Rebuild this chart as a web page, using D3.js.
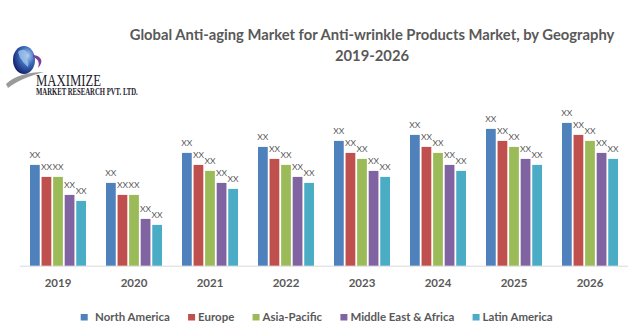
<!DOCTYPE html>
<html>
<head>
<meta charset="utf-8">
<script src="https://cdn.jsdelivr.net/npm/d3@7/dist/d3.min.js"></script>
<style>
  html, body { margin: 0; padding: 0; background: #fff; }
  svg { display: block; }
</style>
</head>
<body>
<svg id="chart" width="629" height="327"></svg>
<script>
// Market size by region and year (labels shown as "XX")
const years = ["2019", "2020", "2021", "2022", "2023", "2024", "2025", "2026"];
const regions = ["North America", "Europe", "Asia-Pacific", "Middle East & Africa", "Latin America"];
const northAmerica = [16.8, 13.8, 18.8, 19.8, 20.8, 21.8, 22.8, 23.8];
const europe       = [14.8, 11.8, 16.8, 17.8, 18.8, 19.8, 20.8, 21.8];
const asiaPacific  = [14.8, 11.8, 15.8, 16.8, 17.8, 18.8, 19.8, 20.8];
const middleEast   = [11.8,  7.8, 13.8, 14.8, 15.8, 16.8, 17.8, 18.8];
const latinAmerica = [10.8,  6.8, 12.8, 13.8, 14.8, 15.8, 16.8, 17.8];
const valueLabel = "XX";
const colors = ["#4F81BD", "#C0504D", "#9BBB59", "#8064A2", "#4BACC6"];

const seriesValues = [northAmerica, europe, asiaPacific, middleEast, latinAmerica];
const rows = years.map((y, i) => ({
  year: y,
  values: regions.map((r, j) => ({ region: r, value: seriesValues[j][i], idx: j }))
}));

const svg = d3.select("#chart");
const gray = "#595959";
const font = "Lato, 'Open Sans', sans-serif";

// fit a text element to a target width by adjusting font size
function fitWidth(sel, target) {
  const node = sel.node();
  const fs = parseFloat(sel.attr("font-size"));
  const w = node.getComputedTextLength();
  if (w > 0) sel.attr("font-size", (fs * target / w).toFixed(2));
}
// squeeze a text element horizontally to a target width, keeping its height
function squeezeTo(sel, x, target) {
  const w = sel.node().getComputedTextLength();
  if (w > 0) {
    const k = target / w;
    sel.attr("x", 0).attr("transform", `translate(${x},0) scale(${k.toFixed(4)},1)`);
  }
}

// ---- Title ----
const t1 = svg.append("text")
  .attr("x", 372).attr("y", 40)
  .attr("text-anchor", "middle")
  .attr("font-family", font).attr("font-weight", "bold")
  .attr("font-size", 14).attr("fill", gray)
  .text("Global Anti-aging Market for Anti-wrinkle Products Market, by Geography");
fitWidth(t1, 485);
svg.append("text")
  .attr("x", 372).attr("y", 61)
  .attr("text-anchor", "middle")
  .attr("font-family", font).attr("font-weight", "bold")
  .attr("font-size", t1.attr("font-size")).attr("fill", gray)
  .text("2019-2026");

// ---- Logo ----
const defs = svg.append("defs");
const rg = defs.append("radialGradient").attr("id", "globe")
  .attr("cx", "65%").attr("cy", "35%").attr("r", "70%");
rg.append("stop").attr("offset", "0%").attr("stop-color", "#b9d6f2");
rg.append("stop").attr("offset", "45%").attr("stop-color", "#3f6fc0");
rg.append("stop").attr("offset", "100%").attr("stop-color", "#14206a");
const logo = svg.append("g");
logo.append("path")
  .attr("d", "M6,84 C14,76 28,72 44,72 C30,76 18,80 8,88 Z")
  .attr("fill", "#9a9a9a");
logo.append("ellipse").attr("cx", 24).attr("cy", 60).attr("rx", 11).attr("ry", 14)
  .attr("fill", "url(#globe)");
logo.append("path")
  .attr("d", "M18,52 C22,48 28,50 27,55 C26,59 30,62 28,67 C24,64 22,60 20,58 Z")
  .attr("fill", "#9fc3ea").attr("opacity", 0.8);
logo.append("path")
  .attr("d", "M33,55 C42,56 44,62 38,68 C40,62 38,59 33,57 Z")
  .attr("fill", "#7a3f9a");
const mx = logo.append("text")
  .attr("y", 86.5)
  .attr("font-family", "'Liberation Serif', 'DejaVu Serif', serif")
  .attr("font-size", 17.5).attr("fill", "#1c1c2c")
  .text("MAXIMIZE");
squeezeTo(mx, 36, 65);
const mr = logo.append("text")
  .attr("y", 95)
  .attr("font-family", "'Liberation Serif', 'DejaVu Serif', serif")
  .attr("font-weight", "bold")
  .attr("font-size", 10).attr("fill", "#1c1c2c")
  .text("MARKET RESEARCH PVT. LTD.");
squeezeTo(mr, 36, 102);

// ---- Scales ----
const baseline = 265.7;
const x0 = d3.scaleBand().domain(years).range([20, 628])
  .paddingInner(0.263).paddingOuter(0.1316);
const x1 = d3.scaleBand().domain(regions).range([0, x0.bandwidth()])
  .paddingInner(0.157).paddingOuter(0);
const y = d3.scaleLinear().domain([0, 20]).range([baseline, baseline - 120]);

// ---- Axis line ----
svg.append("line")
  .attr("x1", 20).attr("x2", 628)
  .attr("y1", 266.2).attr("y2", 266.2)
  .attr("stroke", "#d9d9d9").attr("stroke-width", 1);

// ---- Bars ----
const groups = svg.append("g").selectAll("g").data(rows).join("g")
  .attr("transform", d => `translate(${x0(d.year)},0)`);
groups.selectAll("rect").data(d => d.values).join("rect")
  .attr("x", d => x1(d.region))
  .attr("y", d => y(d.value))
  .attr("width", x1.bandwidth())
  .attr("height", d => y(0) - y(d.value))
  .attr("fill", d => colors[d.idx]);

// ---- Value labels ----
const labels = groups.selectAll("text.lbl").data(d => d.values).join("text")
  .attr("class", "lbl")
  .attr("x", d => x1(d.region) + x1.bandwidth() / 2)
  .attr("y", d => y(d.value) - 7.2)
  .attr("text-anchor", "middle")
  .attr("font-family", font).attr("font-size", 10)
  .attr("fill", gray)
  .text(valueLabel);
// size the labels so "XX" spans ~11px
{
  const w = labels.node().getComputedTextLength();
  if (w > 0) labels.attr("font-size", (10 * 11 / w).toFixed(2));
}

// ---- Year axis labels ----
const xAxis = d3.axisBottom(x0).tickSize(0).tickPadding(0);
const ax = svg.append("g").attr("transform", `translate(0,${baseline})`).call(xAxis);
ax.select(".domain").remove();
ax.selectAll("text")
  .attr("dy", 0).attr("y", 21.3)
  .attr("font-family", font).attr("font-weight", "bold")
  .attr("font-size", 11.5).attr("fill", gray);

// ---- Legend ----
const legend = svg.append("g");
const items = legend.selectAll("g").data(regions).join("g");
items.append("rect").attr("width", 7).attr("height", 6.5)
  .attr("y", 314).attr("fill", (d, i) => colors[i]);
const ltexts = items.append("text")
  .attr("y", 321)
  .attr("font-family", font).attr("font-weight", "bold")
  .attr("font-size", 11).attr("fill", gray)
  .text(d => d);
// scale font so the legend text occupies the same overall width
{
  let sum = 0;
  ltexts.each(function () { sum += this.getComputedTextLength(); });
  ltexts.attr("font-size", (11 * 344.6 / sum).toFixed(2));
}
{
  let cx = 80.7;
  items.each(function (d, i) {
    const g = d3.select(this);
    const gapText = i === 0 ? 7.3 : 3;
    g.select("rect").attr("x", cx);
    const tx = g.select("text").attr("x", cx + 7 + gapText);
    cx = cx + 7 + gapText + tx.node().getComputedTextLength() + 18.3;
  });
}
</script>
</body>
</html>
